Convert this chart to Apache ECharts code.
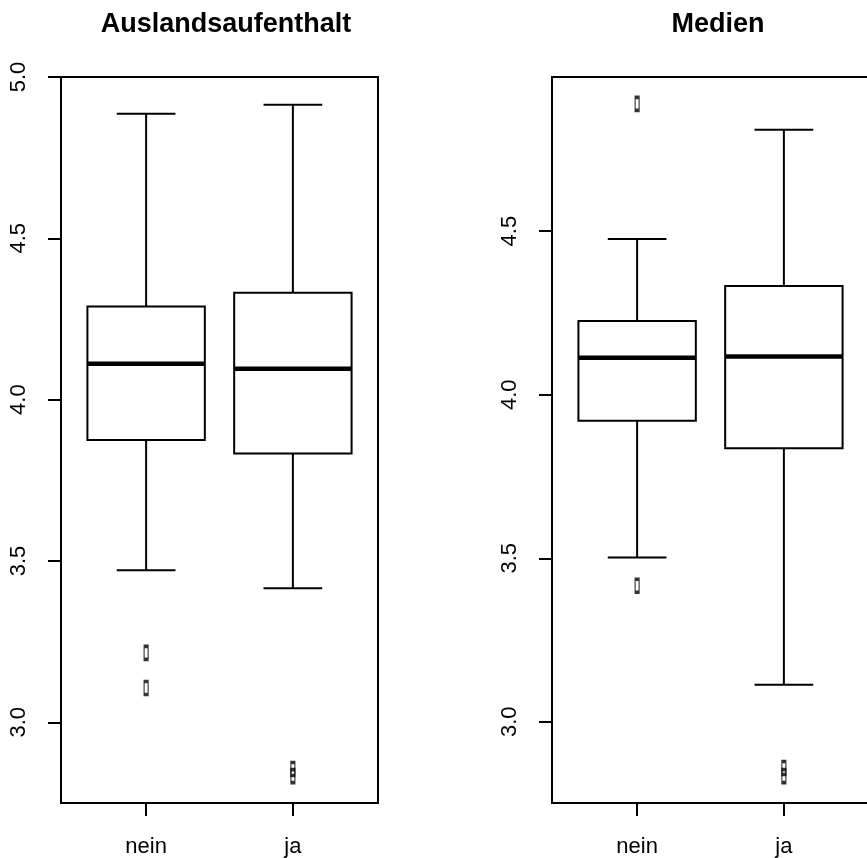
<!DOCTYPE html>
<html>
<head>
<meta charset="utf-8">
<script src="https://cdn.jsdelivr.net/npm/echarts@6/dist/echarts.min.js"></script>
<style>
html,body{margin:0;padding:0;background:#fff;}
#chart{width:867px;height:858px;}
</style>
</head>
<body>
<div id="chart"></div>
<script>
// ---- data ----
const categories = ['nein', 'ja'];
const panelTitles = ['Auslandsaufenthalt', 'Medien'];
// [lower whisker, Q1, median, Q3, upper whisker]
const ausStats = [[3.471, 3.875, 4.111, 4.289, 4.886], [3.415, 3.833, 4.096, 4.331, 4.914]];
const ausOutliers = [[3.215, 3.106], [2.855, 2.833]];
const medStats = [[3.502, 3.920, 4.113, 4.225, 4.476], [3.113, 3.836, 4.117, 4.332, 4.810]];
const medOutliers = [[4.889, 3.416], [2.859, 2.834]];
const yTicksLeft = [3.0, 3.5, 4.0, 4.5, 5.0];
const yTicksRight = [3.0, 3.5, 4.0, 4.5];
const xTicks = [1, 2];

function rRange(stats, outs) {
  const all = [];
  stats.forEach(s => all.push(...s));
  outs.forEach(o => all.push(...o));
  const lo = Math.min(...all), hi = Math.max(...all), r = hi - lo;
  return [lo - 0.04 * r, hi + 0.04 * r];
}
const rangeL = rRange(ausStats, ausOutliers);
const rangeR = rRange(medStats, medOutliers);
// the top tick 5.0 sits on the upper frame edge
rangeL[1] = Math.max(rangeL[1], 5.0);

const FONT = 'Liberation Sans, Arial, Helvetica, sans-serif';
const LW = 2;

function boxData(stats) {
  return stats.map((s, i) => [i + 1].concat(s));
}
function outlierData(outs) {
  const d = [];
  outs.forEach((o, i) => o.forEach(v => d.push([i + 1, v])));
  return d;
}

function renderBox(params, api) {
  const x = api.value(0);
  const lo = api.coord([x, api.value(1)]);
  const q1 = api.coord([x, api.value(2)]);
  const md = api.coord([x, api.value(3)]);
  const q3 = api.coord([x, api.value(4)]);
  const hi = api.coord([x, api.value(5)]);
  const w = api.size([0.8, 0])[0];
  const cx = lo[0];
  const st = {stroke: '#000', lineWidth: LW, fill: null};
  return {
    type: 'group',
    children: [
      {type: 'line', shape: {x1: cx, y1: q3[1], x2: cx, y2: hi[1]}, style: st},
      {type: 'line', shape: {x1: cx, y1: q1[1], x2: cx, y2: lo[1]}, style: st},
      {type: 'line', shape: {x1: cx - w / 4, y1: hi[1], x2: cx + w / 4, y2: hi[1]}, style: st},
      {type: 'line', shape: {x1: cx - w / 4, y1: lo[1], x2: cx + w / 4, y2: lo[1]}, style: st},
      {type: 'rect', shape: {x: cx - w / 2, y: q3[1], width: w, height: q1[1] - q3[1]}, style: {stroke: '#000', lineWidth: LW, fill: '#fff'}},
      {type: 'line', shape: {x1: cx - w / 2, y1: md[1], x2: cx + w / 2, y2: md[1]}, style: {stroke: '#000', lineWidth: 4.5}}
    ]
  };
}

function xAxis(idx) {
  return {
    type: 'value', gridIndex: idx, min: 0.42, max: 2.58,
    splitLine: {show: false},
    axisLine: {show: false},
    axisTick: {show: true, length: 13, lineStyle: {color: '#000', width: LW}, customValues: xTicks},
    axisLabel: {
      customValues: xTicks, margin: 33, color: '#000', fontSize: 22, fontFamily: FONT,
      formatter: v => categories[Math.round(v) - 1] || ''
    }
  };
}
function yAxis(idx, range, ticks) {
  return {
    type: 'value', gridIndex: idx, min: range[0], max: range[1],
    splitLine: {show: false},
    axisLine: {show: false},
    axisTick: {show: true, length: 13, lineStyle: {color: '#000', width: LW}, customValues: ticks},
    axisLabel: {
      customValues: ticks, rotate: 90, margin: 31, color: '#000', fontSize: 22, fontFamily: FONT,
      formatter: v => Number(v).toFixed(1)
    }
  };
}

const chart = echarts.init(document.getElementById('chart'), null, {renderer: 'canvas'});
chart.setOption({
  backgroundColor: '#fff',
  animation: false,
  title: [
    {text: panelTitles[0], left: 221, top: 6, textAlign: 'center',
     textStyle: {fontFamily: FONT, fontWeight: 'bold', fontSize: 27, color: '#000'}},
    {text: panelTitles[1], left: 713, top: 6, textAlign: 'center',
     textStyle: {fontFamily: FONT, fontWeight: 'bold', fontSize: 27, color: '#000'}}
  ],
  grid: [
    {left: 61, top: 77, width: 317, height: 726, show: true, borderColor: '#000', borderWidth: LW,
     backgroundColor: 'transparent', outerBoundsMode: 'none', containLabel: false},
    {left: 552, top: 77, width: 317, height: 726, show: true, borderColor: '#000', borderWidth: LW,
     backgroundColor: 'transparent', outerBoundsMode: 'none', containLabel: false}
  ],
  xAxis: [xAxis(0), xAxis(1)],
  yAxis: [yAxis(0, rangeL, yTicksLeft), yAxis(1, rangeR, yTicksRight)],
  series: [
    {type: 'custom', xAxisIndex: 0, yAxisIndex: 0, renderItem: renderBox, data: boxData(ausStats), clip: false},
    {type: 'custom', xAxisIndex: 1, yAxisIndex: 1, renderItem: renderBox, data: boxData(medStats), clip: false},
    {type: 'scatter', xAxisIndex: 0, yAxisIndex: 0, data: outlierData(ausOutliers), symbol: 'rect', symbolSize: [4, 13],
     itemStyle: {color: 'rgba(0,0,0,0)', borderColor: '#000', borderWidth: 2}},
    {type: 'scatter', xAxisIndex: 1, yAxisIndex: 1, data: outlierData(medOutliers), symbol: 'rect', symbolSize: [4, 13],
     itemStyle: {color: 'rgba(0,0,0,0)', borderColor: '#000', borderWidth: 2}}
  ]
});
</script>
</body>
</html>
